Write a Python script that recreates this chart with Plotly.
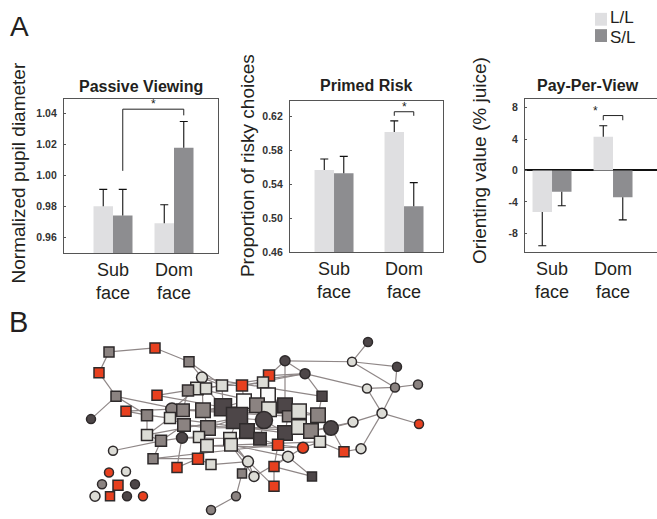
import plotly.graph_objects as go

W, H = 657, 519

# ---------------- data ----------------
groups = ["L/L", "S/L"]
cat_labels = ["Sub<br>face", "Dom<br>face"]

# Passive Viewing (normalized pupil diameter)
pv_ll = [0.980, 0.969]
pv_sl = [0.974, 1.018]
pv_ll_err = [0.011, 0.012]
pv_sl_err = [0.017, 0.017]
pv_ticks = [0.96, 0.98, 1.00, 1.02, 1.04]

# Primed Risk (proportion of risky choices)
pr_ll = [0.557, 0.602]
pr_sl = [0.553, 0.514]
pr_ll_err = [0.013, 0.013]
pr_sl_err = [0.020, 0.028]
pr_ticks = [0.46, 0.50, 0.54, 0.58, 0.62]

# Pay-Per-View (orienting value, % juice)
ppv_ll = [-5.3, 4.3]
ppv_sl = [-2.7, -3.4]
ppv_ll_err = [4.3, 1.4]
ppv_sl_err = [1.8, 2.9]
ppv_ticks = [-8, -4, 0, 4, 8]
ppv_ticktext = ["-8", "-4", "0", "4", "8"]

# significance brackets: (from (cat, group), to (cat, group), top, left foot, right foot)
pv_sig = [((0, 1), (1, 1), 1.043, 1.003, 1.039)]
pr_sig = [((1, 0), (1, 1), 0.6258, 0.621, 0.621)]
ppv_sig = [((1, 0), (1, 1), 7.0, 6.4, 6.4)]

# network (panel B): node layout coordinates, shape, class, degree level
net_x = [109, 155, 189, 99, 116, 91, 157, 126, 147, 147, 161, 113, 153, 198, 177, 211, 248, 242, 254, 236,
         211, 109, 126, 102, 118, 135, 95, 110, 127, 143, 202, 197, 206, 188, 222, 242, 269, 263, 244, 268,
         223, 257, 269, 285, 288, 299, 318, 237, 264, 172, 183, 203, 170, 184, 208, 247, 260, 285, 299, 311,
         331, 182, 199, 230, 231, 207, 278, 303, 320, 344, 288, 274, 274, 312, 285, 352, 368, 397, 305, 367,
         395, 418, 322, 353, 382, 419, 361]
net_y = [356, 352, 366, 377, 401, 424, 400, 416, 420, 440, 446, 456, 464, 464, 473, 470, 467, 479, 482, 502,
         516, 478, 477, 490, 491, 490, 502, 502, 502, 502, 382, 393, 393, 395, 390, 390, 380, 387, 406, 400,
         412, 410, 414, 410, 421, 416, 420, 423, 425, 414, 415, 415, 423, 430, 433, 436, 444, 438, 432, 436,
         433, 443, 442, 444, 450, 451, 450, 453, 447, 457, 462, 472, 492, 482, 365, 366, 346, 371, 378, 393,
         392, 389, 401, 427, 418, 429, 454]
net_shape = list("sssssc" "sssssc" "sssscscccc" "ccsccsccc" "ssssssssss" "sssssssccs" "sssssssssc" "cssssscssc"
                 "sssccccccc" "csccccs")
net_class = ["mid", "red", "mid", "red", "mid", "dark", "red", "red", "mid", "light",
             "mid", "light", "mid", "red", "red", "light", "light", "mid", "light", "mid",
             "mid", "red", "light", "mid", "red", "dark", "light", "red", "dark", "red",
             "light", "light", "light", "mid", "light", "red", "red", "light", "white", "white",
             "dark", "mid", "light", "dark", "mid", "light", "mid", "dark", "dark", "mid",
             "mid", "mid", "light", "mid", "mid", "dark", "dark", "dark", "light", "mid",
             "dark", "dark", "light", "light", "light", "light", "red", "red", "light", "red",
             "light", "red", "red", "dark", "dark", "light", "dark", "dark", "dark", "light",
             "mid", "mid", "dark", "light", "light", "red", "light"]
net_level = [2, 2, 2, 2, 2, 1, 2, 2, 3, 3, 3, 1, 2, 3, 2, 2, 3, 1, 2, 1,
             1, 1, 1, 1, 2, 1, 2, 1, 1, 1, 3, 4, 3, 3, 3, 3, 3, 3, 5, 5,
             6, 5, 5, 5, 3, 5, 5, 7, 6, 4, 4, 5, 3, 4, 5, 5, 4, 5, 5, 5,
             5, 3, 3, 4, 4, 4, 3, 3, 3, 2, 3, 2, 2, 1, 2, 1, 1, 1, 2, 1,
             1, 1, 2, 2, 2, 1, 2]
net_edges = [(0, 1), (1, 2), (2, 30), (0, 3), (3, 4), (4, 5), (4, 8), (4, 50), (6, 33), (6, 40), (7, 8), (7, 49),
             (8, 52), (8, 9), (9, 10), (9, 52), (10, 11), (10, 12), (10, 53), (10, 61), (12, 13), (13, 14),
             (13, 15), (13, 65), (13, 54), (14, 53), (15, 16), (16, 63), (16, 17), (17, 19), (19, 20), (16, 18),
             (18, 70), (18, 64),
             (30, 31), (30, 34), (30, 51), (31, 33), (31, 49), (32, 34), (32, 40), (33, 50), (34, 35), (34, 40),
             (35, 37), (35, 38), (36, 37), (36, 74), (36, 78), (37, 39), (38, 47), (38, 40), (39, 48), (39, 43),
             (40, 47), (40, 51), (41, 47), (41, 48), (42, 48), (42, 43), (43, 74), (43, 45), (44, 57), (45, 46),
             (46, 82), (46, 60), (47, 48), (47, 55), (47, 54), (47, 63), (48, 56), (48, 57), (49, 50), (50, 51),
             (51, 54), (52, 53), (53, 54), (53, 61), (54, 62), (55, 56), (55, 64), (56, 66), (57, 58), (58, 59),
             (59, 60), (60, 83), (60, 68), (61, 62), (62, 65), (63, 64), (64, 70), (66, 67), (66, 71), (67, 68),
             (67, 70), (68, 69), (69, 86), (69, 60), (70, 71), (70, 73), (71, 73), (71, 72), (72, 64),
             (74, 75), (74, 78), (75, 76), (75, 77), (75, 80), (77, 80), (78, 79), (78, 82), (79, 80), (80, 81),
             (79, 84), (80, 84), (84, 85), (84, 83), (84, 86), (83, 59),
             (30, 82), (33, 78), (49, 46), (52, 57), (53, 59), (65, 68), (12, 66), (9, 47), (35, 78), (2, 34),
             (31, 45), (54, 58), (61, 56), (65, 67), (50, 44), (40, 43), (51, 41)]

# ---------------- styles ----------------
C_LL = "#dfdfe1"
C_SL = "#8d8d90"
TXT = "#231f20"
FONT = "Liberation Sans, Arial, sans-serif"
node_colors = {"red": "#e8401f", "light": "#dcdcd6", "mid": "#8b8381", "dark": "#4d4648", "white": "#fbfbfb"}
level_px = {1: 9, 2: 10, 3: 11, 4: 12.5, 5: 14.5, 6: 17, 7: 21}


def px(x):
    return x / W


def py(y):
    return 1 - y / H


panels = [
    dict(dom=(64, 218, 100, 256), xr=(-0.803, 1.721), yr=(0.9497, 1.0497), ppu=61,
         ll=pv_ll, sl=pv_sl, lle=pv_ll_err, sle=pv_sl_err, ticks=pv_ticks, ticktext=[f"{v:.2f}" for v in pv_ticks],
         sig=pv_sig, title="Passive Viewing", title_xy=(141, 88),
         ytitle="Normalized pupil diameter", ytitle_xy=(18.5, 175), mirror_y=True, zero=False),
    dict(dom=(290, 443, 102, 255), xr=(-0.629, 1.557), yr=(0.46, 0.6387), ppu=70,
         ll=pr_ll, sl=pr_sl, lle=pr_ll_err, sle=pr_sl_err, ticks=pr_ticks, ticktext=[f"{v:.2f}" for v in pr_ticks],
         sig=pr_sig, title="Primed Risk", title_xy=(366, 87),
         ytitle="Proportion of risky choices", ytitle_xy=(247, 168), mirror_y=True, zero=False),
    dict(dom=(525, 657, 100, 255), xr=(-0.443, 1.721), yr=(-10.4, 9.13), ppu=61,
         ll=ppv_ll, sl=ppv_sl, lle=ppv_ll_err, sle=ppv_sl_err, ticks=ppv_ticks, ticktext=ppv_ticktext,
         sig=ppv_sig, title="Pay-Per-View", title_xy=(588, 87),
         ytitle="Orienting value (% juice)", ytitle_xy=(479, 163), mirror_y=False, zero=True),
]

fig = go.Figure()
annotations = []
layout_axes = {}

for k, p in enumerate(panels, start=1):
    xa = "x" if k == 1 else f"x{k}"
    ya = "y" if k == 1 else f"y{k}"
    w = 19.5 / p["ppu"]
    cats = list(range(len(cat_labels)))
    for gi, (vals, errs, col, name) in enumerate([(p["ll"], p["lle"], C_LL, groups[0]),
                                                   (p["sl"], p["sle"], C_SL, groups[1])]):
        off = (gi - 0.5) * w
        xs = [c + off for c in cats]
        fig.add_trace(go.Bar(x=xs, y=vals, width=w, marker=dict(color=col, line=dict(width=0)),
                             name=name, showlegend=False, xaxis=xa, yaxis=ya))
        # one-sided error bars (away from zero), drawn from the data
        cap = 4.0 / p["ppu"]
        ex, ey = [], []
        for x0, v, e in zip(xs, vals, errs):
            end = v + e if v >= 0 else v - e
            ex += [x0, x0, None, x0 - cap, x0 + cap, None]
            ey += [v, end, None, end, end, None]
        fig.add_trace(go.Scatter(x=ex, y=ey, mode="lines", line=dict(color="#111111", width=1.1),
                                 showlegend=False, hoverinfo="skip", xaxis=xa, yaxis=ya))
    # significance brackets
    for (c0, g0), (c1, g1), top, f0, f1 in p["sig"]:
        x0 = c0 + (g0 - 0.5) * w
        x1 = c1 + (g1 - 0.5) * w
        fig.add_trace(go.Scatter(x=[x0, x0, x1, x1], y=[f0, top, top, f1], mode="lines",
                                 line=dict(color="#222222", width=1), showlegend=False,
                                 hoverinfo="skip", xaxis=xa, yaxis=ya))
        if k == 3:
            sx, sy = x0 - 0.12, top
        else:
            sx, sy = (x0 + x1) / 2, top
        annotations.append(dict(x=sx, y=sy, xref=xa, yref=ya, text="*", showarrow=False,
                                font=dict(size=12, color=TXT, family=FONT), yanchor="bottom", yshift=-4))

    l, r, t, b = p["dom"]
    layout_axes[("xaxis" if k == 1 else f"xaxis{k}")] = dict(
        domain=[px(l), px(r)], range=list(p["xr"]), anchor=ya, tickvals=cats, ticktext=cat_labels,
        tickfont=dict(size=18, color=TXT, family=FONT), showline=True, linecolor="#555555", linewidth=1.3,
        mirror=True, showgrid=False, zeroline=False, ticks="", fixedrange=True)
    layout_axes[("yaxis" if k == 1 else f"yaxis{k}")] = dict(
        domain=[py(b), py(t)], range=list(p["yr"]), anchor=xa, tickvals=p["ticks"], ticktext=p["ticktext"],
        tickfont=dict(size=10.5, color="#333333", family=FONT, weight="bold"), showline=True,
        linecolor="#555555", linewidth=1.3, mirror=p["mirror_y"], showgrid=False,
        zeroline=p["zero"], zerolinecolor="#111111", zerolinewidth=2, ticks="inside", ticklen=2,
        tickcolor="#555555", ticklabelstandoff=4, fixedrange=True)
    annotations.append(dict(x=px(p["title_xy"][0]), y=py(p["title_xy"][1]), xref="paper", yref="paper",
                            text=f"<b>{p['title']}</b>", showarrow=False,
                            font=dict(size=16, color=TXT, family=FONT), xanchor="center", yanchor="middle"))
    annotations.append(dict(x=px(p["ytitle_xy"][0]), y=py(p["ytitle_xy"][1]), xref="paper", yref="paper",
                            text=p["ytitle"], textangle=-90, showarrow=False,
                            font=dict(size=19, color=TXT, family=FONT), xanchor="center", yanchor="middle"))

# ---------------- network (panel B) ----------------
ex, ey = [], []
for a, b in net_edges:
    ex += [net_x[a], net_x[b], None]
    ey += [net_y[a], net_y[b], None]
fig.add_trace(go.Scatter(x=ex, y=ey, mode="lines", line=dict(color="#8f8787", width=1.2),
                         showlegend=False, hoverinfo="skip", xaxis="x4", yaxis="y4", cliponaxis=False))
fig.add_trace(go.Scatter(
    x=net_x, y=net_y, mode="markers", showlegend=False, hoverinfo="skip", xaxis="x4", yaxis="y4",
    cliponaxis=False,
    marker=dict(symbol=["square" if s == "s" else "circle" for s in net_shape],
                color=[node_colors[c] for c in net_class],
                size=[level_px[v] for v in net_level],
                line=dict(color="#2e2a2b", width=1.5), opacity=1)))

layout_axes["xaxis4"] = dict(domain=[0, 1], range=[0, W], anchor="y4", visible=False, fixedrange=True)
layout_axes["yaxis4"] = dict(domain=[0, py(330)], range=[H, 330], anchor="x4", visible=False, fixedrange=True)

# legend (drawn as shapes + text)
shapes = []
for gi, (col, yc, ty) in enumerate([(C_LL, 19.5, 18), (C_SL, 36, 38)]):
    shapes.append(dict(type="rect", xref="paper", yref="paper", x0=px(595), x1=px(607),
                       y0=py(yc + 6.5), y1=py(yc - 6.5), fillcolor=col, line=dict(width=0)))
    annotations.append(dict(x=px(608), y=py(ty), xref="paper", yref="paper", text=groups[gi],
                            showarrow=False, xanchor="left", yanchor="middle",
                            font=dict(size=17, color=TXT, family=FONT)))

annotations.append(dict(x=px(8), y=py(27), xref="paper", yref="paper", text="A", showarrow=False,
                        xanchor="left", yanchor="middle", font=dict(size=28, color=TXT, family=FONT)))
annotations.append(dict(x=px(7), y=py(326), xref="paper", yref="paper", text="B", showarrow=False,
                        xanchor="left", yanchor="middle", font=dict(size=29, color=TXT, family=FONT)))

fig.update_layout(
    width=W, height=H, margin=dict(l=0, r=0, t=0, b=0), paper_bgcolor="white", plot_bgcolor="white",
    barmode="overlay", showlegend=False, annotations=annotations, shapes=shapes,
    font=dict(family=FONT, color=TXT), **layout_axes)

fig.write_html("out.html")
